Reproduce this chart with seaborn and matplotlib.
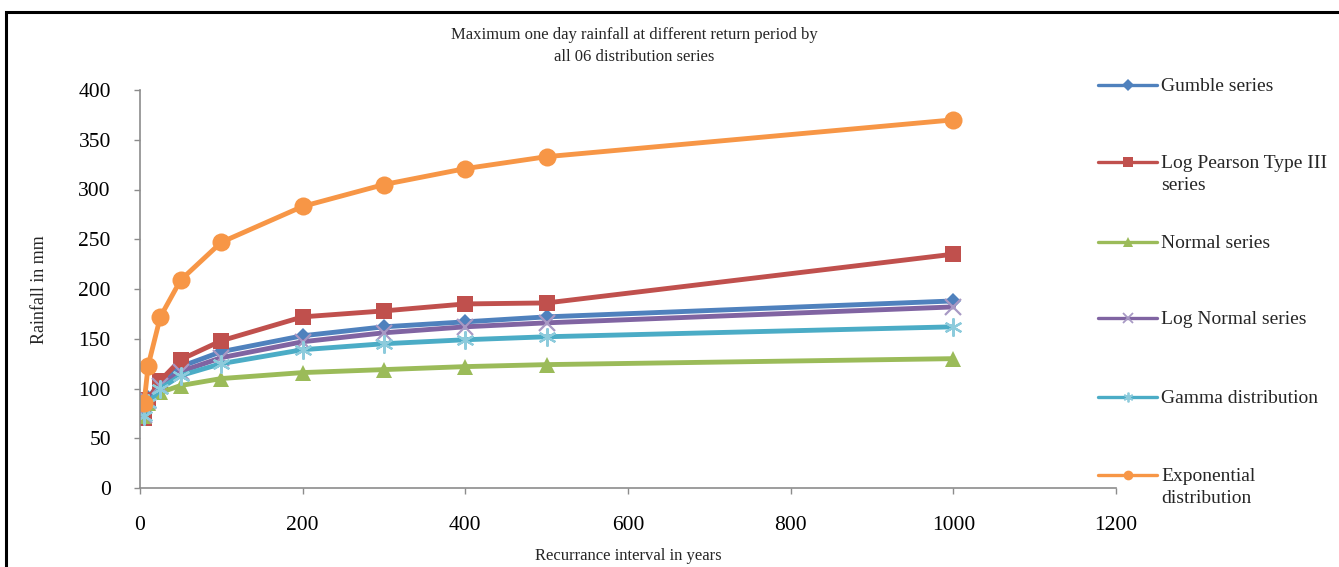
import matplotlib
matplotlib.use("Agg")
import matplotlib.pyplot as plt
import seaborn as sns
import numpy as np
import pandas as pd
from matplotlib.patches import Rectangle
from matplotlib.lines import Line2D

# ---- data ----
return_period = [5, 10, 25, 50, 100, 200, 300, 400, 500, 1000]
gumble = [75, 90, 107, 122, 137, 153, 162, 167, 172, 188]
log_pearson = [70, 88, 108, 129, 148, 172, 178, 185, 186, 235]
normal = [72, 85, 96, 103, 110, 116, 119, 122, 124, 130]
log_normal = [73, 87, 103, 117, 131, 147, 156, 162, 166, 182]
gamma = [72, 85, 100, 113, 125, 139, 145, 149, 152, 162]
exponential = [85, 123, 172, 209, 247, 283, 305, 321, 333, 370]

series_names = ["Gumble series", "Log Pearson Type III\nseries", "Normal series",
                "Log Normal series", "Gamma distribution", "Exponential\ndistribution"]
series_values = [gumble, log_pearson, normal, log_normal, gamma, exponential]

colors = ["#4F81BD", "#C0504D", "#9BBB59", "#8064A2", "#4BACC6", "#F79646"]
marker_edge = ["#4F81BD", "#C0504D", "#9BBB59", "#A899C4", "#8DCBDC", "#F79646"]
markers = ["D", "s", "^", "x", (6, 2, 0), "o"]
msizes = [8.5, 12, 12, 11, 13, 13]

sns.set_theme(style="white")
plt.rcParams["font.family"] = ["Liberation Serif", "DejaVu Serif"]

W, H = 1339, 567
fig = plt.figure(figsize=(W/100, H/100), dpi=100)
ax = fig.add_axes([140/W, 1-488/H, (1116-140)/W, (488-90)/H])

for name, vals, c, me, m, ms in zip(series_names, series_values, colors, marker_edge, markers, msizes):
    df = pd.DataFrame({"x": return_period, "y": vals})
    filled = m in ("D", "s", "^", "o")
    kw = dict(marker=m, markersize=ms, color=c, linewidth=3.5, label=name)
    if filled:
        kw.update(markerfacecolor=c, markeredgecolor=c, markeredgewidth=0)
    else:
        kw.update(markeredgecolor=me, markeredgewidth=1.6)
    sns.lineplot(data=df, x="x", y="y", ax=ax, **kw)

ax.set_xlim(0, 1200)
ax.set_ylim(0, 400)
ax.set_xticks(np.arange(0, 1201, 200))
ax.set_yticks(np.arange(0, 401, 50))
for s in ["top", "right"]:
    ax.spines[s].set_visible(False)
for s in ["left", "bottom"]:
    ax.spines[s].set_color("#8c8c8c")
    ax.spines[s].set_linewidth(1.2)
ax.tick_params(axis="both", which="major", direction="out", length=4, width=1,
               color="#8c8c8c", labelsize=15.5, labelcolor="black", bottom=True, left=True)
ax.tick_params(axis="x", pad=16)
ax.tick_params(axis="y", pad=17)
ax.set_xlabel("")
ax.set_ylabel("")
if ax.get_legend() is not None:
    ax.get_legend().remove()

fig.text(40/W, 1-290/H, "Rainfall in mm", rotation=90, ha="center", va="center", fontsize=13)
fig.text(628/W, 1-556/H, "Recurrance interval in years", ha="center", va="center", fontsize=12)
fig.text(634/W, 1-46/H, "Maximum one day rainfall at different return period by\nall 06 distribution series",
         ha="center", va="center", fontsize=12, linespacing=1.45)

# manual legend (handle aligned with first text line, as in the reference)
legend_y = [85, 162, 242, 318, 397, 475]
lx0, lx1, tx = 1098, 1157, 1161
for name, c, me, m, ly in zip(series_names, colors, marker_edge, markers, legend_y):
    yf = 1 - ly/H
    fig.add_artist(Line2D([lx0/W, lx1/W], [yf, yf], transform=fig.transFigure,
                          color=c, linewidth=2.4))
    filled = m in ("D", "s", "^", "o")
    mk = dict(marker=m, markersize=7 if m != "D" else 6, linestyle="none")
    if filled:
        mk.update(markerfacecolor=c, markeredgecolor=c, markeredgewidth=0)
    else:
        mk.update(markerfacecolor="none", markeredgecolor=me, markeredgewidth=1.3)
    fig.add_artist(Line2D([(lx0+lx1)/2/W], [yf], transform=fig.transFigure, **mk))
    fig.text(tx/W, yf + 7/H, name, ha="left", va="top", fontsize=14, linespacing=1.4)

fig.patches.append(Rectangle((6/W, -0.1), 1.2, 1.1 - 12/H, transform=fig.transFigure,
                             fill=False, edgecolor="black", linewidth=2.2, figure=fig))

fig.savefig("out.png", dpi=100)
